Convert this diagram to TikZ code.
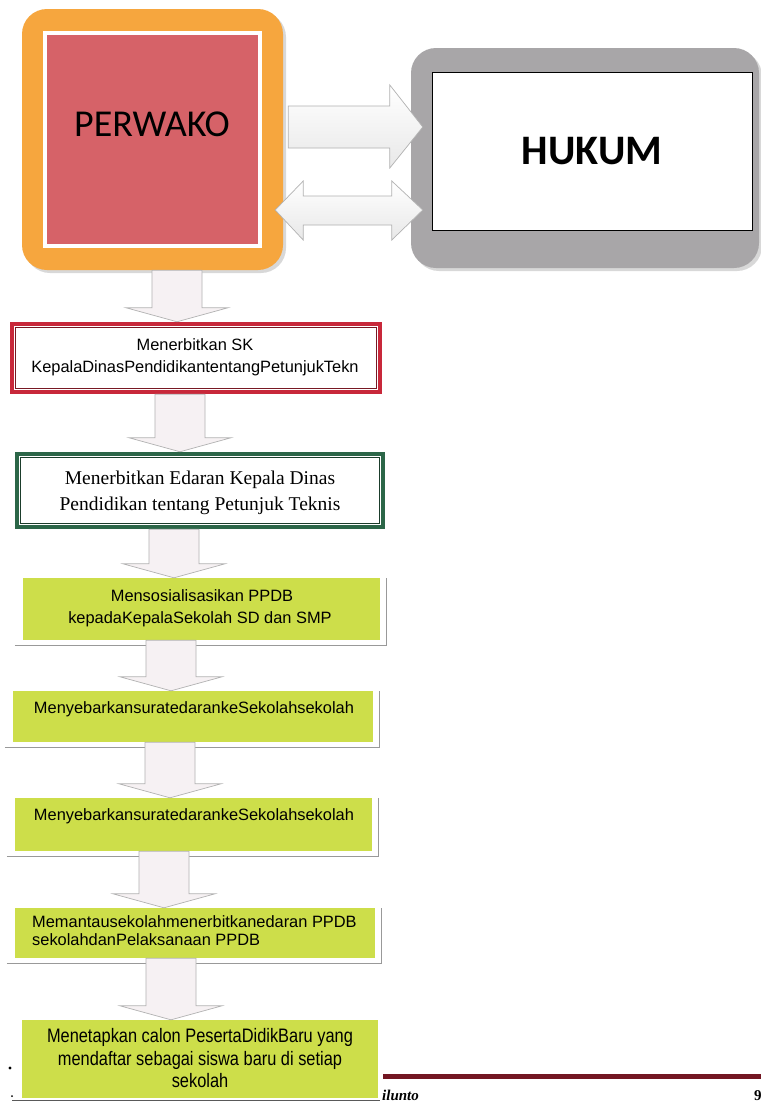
\documentclass[tikz,border=0pt]{standalone}
\usepackage{fontspec}
\setmainfont{Liberation Sans}
\newfontfamily\serifbox{Liberation Serif}
\newfontfamily\narrowbox[FakeStretch=0.84]{Liberation Sans}
\newfontfamily\calib{Carlito}
\usetikzlibrary{calc,shadows}
\definecolor{orangeB}{RGB}{246,166,62}
\definecolor{redF}{RGB}{214,98,104}
\definecolor{grayB}{RGB}{168,166,168}
\definecolor{boxred}{RGB}{200,40,58}
\definecolor{boxgreen}{RGB}{44,102,72}
\definecolor{limeF}{RGB}{205,222,74}
\definecolor{maroonL}{RGB}{115,22,34}
\definecolor{arrowF}{RGB}{246,241,243}
\newcommand\fatdown[3]{%
  \draw[fatdn] let \p1=(#1.south), \p2=(#2.north) in
    ({#3pt-25pt},{\y1}) -- ({#3pt+25pt},{\y1}) -- ({#3pt+25pt},{\y2+14pt})
    -- ({#3pt+51pt},{\y2+14pt}) -- ({#3pt},{\y2}) -- ({#3pt-51pt},{\y2+14pt})
    -- ({#3pt-25pt},{\y2+14pt}) -- cycle;}
\newcommand\boxshadow[1]{%
  \draw[shadowline] ([shift={(-8pt,-5pt)}]#1.south west) -- ([shift={(6pt,-5pt)}]#1.south east)
    -- ([shift={(6pt,0pt)}]#1.north east);}
\tikzset{
  txt/.style={inner sep=0pt, font=\fontsize{16.4pt}{22pt}\selectfont},
  sertxt/.style={inner sep=0pt, font=\serifbox\fontsize{19.5pt}{27pt}\selectfont},
  nartxt/.style={inner sep=0pt, font=\narrowbox\fontsize{19.5pt}{23pt}\selectfont},
  gbox/.style={fill=limeF, draw=none, inner sep=0pt},
  shadowline/.style={draw=gray!80, line width=1.2pt},
  fatdn/.style={draw=gray!60, line width=0.7pt, fill=arrowF},
  fatside/.style={draw=gray!60, line width=0.7pt, top color=white, bottom color=gray!18},
  bigshadow/.style={drop shadow={opacity=0.3, shadow xshift=3pt, shadow yshift=-3pt}}
}
\begin{document}
\begin{tikzpicture}[x=1pt,y=-1pt]
\useasboundingbox[fill=white] (0,0) rectangle (761,1104);

% top boxes
\node[bigshadow, fill=orangeB, rounded corners=25pt, minimum width=261pt, minimum height=261pt, inner sep=0pt] (perwako) at (152.5,139.5) {};
\node[fill=redF, draw=white, line width=4pt, minimum width=215pt, minimum height=213pt, inner sep=0pt] (perwakoIn) at (152.5,139.5) {};
\node[font=\calib\fontsize{38pt}{42pt}\selectfont, inner sep=0pt] (perwakoT) at (152,124) {PERWAKO};

\node[bigshadow, fill=grayB, rounded corners=25pt, minimum width=348pt, minimum height=220pt, inner sep=0pt] (hukum) at (585,158) {};
\node[fill=white, draw=black, line width=1pt, minimum width=320pt, minimum height=158pt, inner sep=0pt] (hukumIn) at (592,151) {};
\node[font=\calib\bfseries\fontsize{42pt}{46pt}\selectfont, inner sep=0pt] (hukumT) at (592,151) {HUKUM};

% side arrows
\draw[fatside] let \p1=(perwako.east), \p2=(hukum.west) in
  ({\x1+5pt},{-106pt}) -- ({\x2-21pt},{-106pt}) -- ({\x2-21pt},{-85pt}) -- ({\x2+12pt},{-127pt})
  -- ({\x2-21pt},{-168pt}) -- ({\x2-21pt},{-148pt}) -- ({\x1+5pt},{-148pt}) -- cycle;
\draw[fatside] let \p1=(perwako.east), \p2=(hukum.west) in
  ({\x1-8pt},{-210pt}) -- ({\x1+20pt},{-181pt}) -- ({\x1+20pt},{-196pt}) -- ({\x2-19pt},{-196pt})
  -- ({\x2-19pt},{-181pt}) -- ({\x2+12pt},{-210pt}) -- ({\x2-19pt},{-240pt}) -- ({\x2-19pt},{-225pt})
  -- ({\x1+20pt},{-225pt}) -- ({\x1+20pt},{-240pt}) -- cycle;

% flow boxes
\node[draw=boxred, line width=4.5pt, fill=white, minimum width=368pt, minimum height=68pt, inner sep=0pt] (b1) at (196,358) {};
\draw[boxred!60!black, line width=0.8pt] ([shift={(6pt,-6pt)}]b1.north west) rectangle ([shift={(-6pt,6pt)}]b1.south east);
\node[txt, anchor=base] (t1a) at (195,350) {Menerbitkan SK};
\node[txt, anchor=base] (t1b) at (195,372) {KepalaDinasPendidikantentangPetunjukTekn};

\node[draw=boxgreen, line width=4.5pt, fill=white, minimum width=366pt, minimum height=73pt, inner sep=0pt] (b2) at (200,490.5) {};
\draw[boxgreen!60!black, line width=0.8pt] ([shift={(6pt,-6pt)}]b2.north west) rectangle ([shift={(-6pt,6pt)}]b2.south east);
\node[sertxt, anchor=base] (t2a) at (200,484) {Menerbitkan Edaran Kepala Dinas};
\node[sertxt, anchor=base] (t2b) at (200,510) {Pendidikan tentang Petunjuk Teknis};

\node[gbox, minimum width=357pt, minimum height=62pt] (b3) at (201.5,609) {};
\boxshadow{b3}
\node[txt, anchor=base] (t3a) at (202,601) {Mensosialisasikan PPDB};
\node[txt, anchor=base] (t3b) at (200,623) {kepadaKepalaSekolah SD dan SMP};

\node[gbox, minimum width=360pt, minimum height=51pt] (b4) at (193,716.5) {};
\boxshadow{b4}
\node[txt, anchor=base] (t4) at (194,713) {MenyebarkansuratedarankeSekolahsekolah};

\node[gbox, minimum width=357pt, minimum height=53pt] (b5) at (193.5,824.5) {};
\boxshadow{b5}
\node[txt, anchor=base] (t5) at (194,820) {MenyebarkansuratedarankeSekolahsekolah};

\node[gbox, minimum width=360pt, minimum height=50pt] (b6) at (195,933) {};
\boxshadow{b6}
\node[txt, anchor=base west] (t6a) at (32,927) {Memantausekolahmenerbitkanedaran PPDB};
\node[txt, anchor=base west] (t6b) at (32,945) {sekolahdanPelaksanaan PPDB};

\node[gbox, minimum width=356pt, minimum height=78pt] (b7) at (200,1059) {};
\node[nartxt, anchor=base] (t7a) at (200,1042) {Menetapkan calon PesertaDidikBaru yang};
\node[nartxt, anchor=base] (t7b) at (200,1065) {mendaftar sebagai siswa baru di setiap};
\node[nartxt, anchor=base] (t7c) at (200,1087) {sekolah};
\draw[gray!70!black, line width=1pt] (12,1100) -- (380,1100);

% down arrows
\fatdown{perwako}{b1}{177}
\fatdown{b1}{b2}{180}
\fatdown{b2}{b3}{174}
\fatdown{b3}{b4}{171}
\fatdown{b4}{b5}{170}
\fatdown{b5}{b6}{164}
\fatdown{b6}{b7}{171}

% footer
\draw[maroonL, line width=5pt] (383,1076) -- (761,1076);
\node[anchor=base west, inner sep=0pt, font=\serifbox\bfseries\itshape\fontsize{15pt}{17pt}\selectfont] (foot) at (382,1100) {ilunto};
\node[anchor=base west, inner sep=0pt, font=\serifbox\bfseries\fontsize{15pt}{17pt}\selectfont] (pg) at (754,1100) {9};
\fill[black] (10,1068) circle (1.6);
\fill[black] (12,1096) circle (1);
\end{tikzpicture}
\end{document}
